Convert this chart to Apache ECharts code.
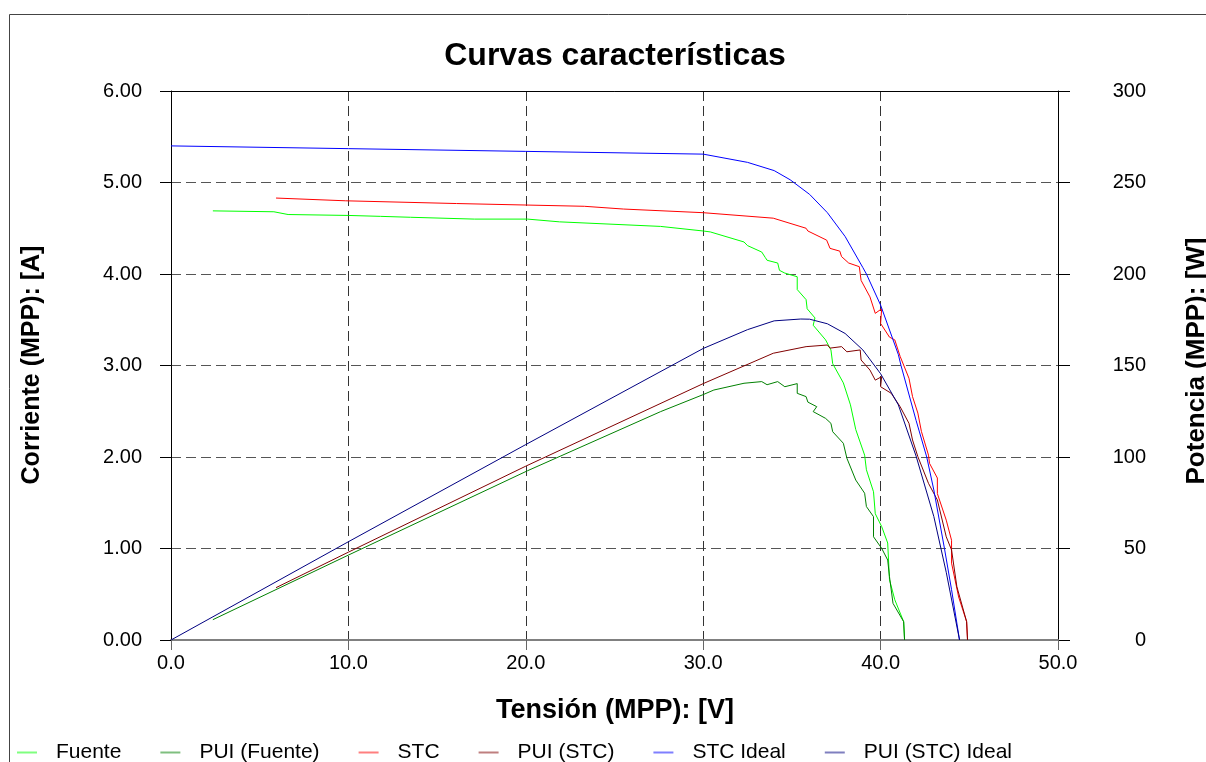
<!DOCTYPE html>
<html>
<head>
<meta charset="utf-8">
<script src="https://cdn.jsdelivr.net/npm/echarts@6/dist/echarts.min.js"></script>
<style>
html,body{margin:0;padding:0;background:#fff;}
#chart{width:1206px;height:762px;}
</style>
</head>
<body>
<div id="chart"></div>
<script>
// ---- Data (x = tension [V], y = current [A] or power [W]) ----
const xTicks = [0, 10, 20, 30, 40, 50];
const seriesNames = ['Fuente', 'PUI (Fuente)', 'STC', 'PUI (STC)', 'STC Ideal', 'PUI (STC) Ideal'];
const seriesColors = ['#00ff00', '#008000', '#ff0000', '#800000', '#0000ff', '#000080'];

const fuente = [[2.36,4.69],[5.8,4.68],[6.6,4.65],[10.0,4.64],[11.8,4.63],[13.5,4.62],[17.1,4.60],[20.1,4.60],[21.9,4.57],[27.6,4.52],[30.0,4.47],[30.4,4.46],[32.3,4.35],[32.5,4.31],[33.3,4.24],[33.5,4.18],[33.6,4.15],[34.2,4.12],[34.3,4.04],[34.6,4.01],[35.3,3.97],[35.3,3.83],[35.8,3.72],[35.86,3.62],[36.3,3.52],[36.2,3.44],[36.9,3.28],[37.2,3.17],[37.3,3.02],[37.9,2.81],[38.3,2.57],[38.6,2.30],[39.1,2.02],[39.2,1.86],[39.6,1.62],[39.7,1.38],[40.06,1.24],[40.4,1.06],[40.5,0.66],[40.8,0.44],[41.3,0.20],[41.35,0.0]];

const puiFuente = [[2.36,11.1],[10.0,46.4],[20.1,92.5],[27.6,124.8],[30.0,134.1],[30.6,136.6],[32.3,140.3],[33.3,141.2],[33.6,139.5],[34.2,141.2],[34.6,138.4],[35.3,140.1],[35.3,134.8],[35.8,133.0],[35.9,130.0],[36.4,127.5],[36.2,124.8],[36.9,121.1],[37.2,118.4],[37.3,113.8],[37.9,107.5],[38.1,99.3],[38.6,87.4],[39.1,80.2],[39.2,72.9],[39.6,67.4],[39.6,56.4],[40.06,50.1],[40.4,43.7],[40.5,34.6],[40.7,20.0],[41.3,10.0],[41.35,0.0]];

const stc = [[5.92,4.83],[9.85,4.80],[16.1,4.77],[23.3,4.74],[25.5,4.71],[30.0,4.67],[33.95,4.61],[35.8,4.50],[35.9,4.47],[36.96,4.37],[37.15,4.28],[37.7,4.25],[37.8,4.19],[38.2,4.12],[38.8,4.08],[38.9,3.93],[39.4,3.75],[39.7,3.57],[40.06,3.62],[40.0,3.46],[40.5,3.31],[40.8,3.28],[41.1,3.10],[41.6,2.86],[41.8,2.66],[42.1,2.48],[42.3,2.28],[42.7,2.02],[42.76,1.93],[43.2,1.77],[43.2,1.60],[43.7,1.31],[44.0,1.09],[44.0,0.84],[44.4,0.47],[44.85,0.20],[44.9,0.0]];

const puiStc = [[5.92,28.6],[10.0,48.0],[20.0,95.0],[30.0,140.1],[33.95,156.7],[35.8,160.3],[37.0,161.2],[37.15,159.5],[37.8,160.3],[38.1,157.5],[38.85,158.5],[38.9,153.0],[39.4,147.5],[39.7,142.0],[40.06,143.9],[40.0,138.4],[40.6,134.8],[41.1,127.5],[41.6,118.4],[41.8,109.3],[42.1,100.2],[42.7,85.6],[43.2,76.5],[43.7,56.4],[44.0,49.2],[44.3,29.1],[44.85,10.0],[44.9,0.0]];

const stcIdeal = [[0.0,5.40],[10.0,5.37],[20.0,5.34],[30.0,5.31],[32.5,5.22],[34.0,5.13],[34.9,5.03],[36.0,4.87],[37.0,4.67],[38.0,4.41],[39.0,4.07],[39.2,4.00],[40.0,3.66],[41.0,3.12],[41.15,3.00],[42.0,2.40],[42.6,2.00],[43.0,1.64],[43.6,1.00],[44.0,0.55],[44.45,0.0]];

const puiStcIdeal = [[0.0,0.0],[10.0,53.7],[20.0,106.8],[30.0,159.3],[32.5,169.6],[34.0,174.4],[35.5,175.4],[36.0,175.3],[37.0,172.8],[38.0,167.5],[39.0,158.5],[40.0,145.5],[41.0,128.5],[42.0,100.5],[43.0,67.5],[43.7,37.0],[44.45,0.0]];

const seriesData = [fuente, puiFuente, stc, puiStc, stcIdeal, puiStcIdeal];
const seriesAxis = [0, 1, 0, 1, 0, 1];

const FONT = 'Liberation Sans, Arial, sans-serif';
const chart = echarts.init(document.getElementById('chart'));

const option = {
  animation: false,
  backgroundColor: '#ffffff',
  title: {
    text: 'Curvas características',
    left: 610,
    textAlign: 'center',
    top: 35,
    textStyle: { fontFamily: FONT, fontSize: 32, fontWeight: 'bold', color: '#000' }
  },
  legend: {
    data: seriesNames,
    left: 12,
    top: 737,
    icon: 'rect',
    itemWidth: 20,
    itemHeight: 2,
    itemGap: 39,
    itemStyle: { opacity: 0.5 },
    textStyle: { fontFamily: FONT, fontSize: 21, color: '#000', padding: [0, 0, 0, 14] }
  },
  grid: { left: 171, right: 148, top: 91, bottom: 122, containLabel: false },
  xAxis: [
    {
      type: 'value', min: xTicks[0], max: xTicks[xTicks.length - 1], interval: 10,
      position: 'bottom',
      axisLine: { show: true, onZero: false, lineStyle: { color: '#808080', width: 2 } },
      axisTick: { show: true, inside: false, length: 10, lineStyle: { color: '#666' } },
      axisLabel: { formatter: v => v.toFixed(1), fontFamily: FONT, fontSize: 20, color: '#000', margin: 13 },
      splitLine: { show: true, lineStyle: { type: [10, 5], color: '#333', width: 1 } }
    },
    {
      type: 'value', min: xTicks[0], max: xTicks[xTicks.length - 1], interval: 10,
      position: 'top',
      axisLine: { show: true, onZero: false, lineStyle: { color: '#000', width: 1 } },
      axisTick: { show: false },
      axisLabel: { show: false },
      splitLine: { show: false }
    }
  ],
  yAxis: [
    {
      type: 'value', min: 0, max: 6, interval: 1, position: 'left',
      axisLine: { show: true, onZero: false, lineStyle: { color: '#000', width: 1 } },
      axisTick: { show: true, inside: false, length: 11, lineStyle: { color: '#000' } },
      axisLabel: { formatter: v => v.toFixed(2), fontFamily: FONT, fontSize: 20, color: '#000', margin: 29 },
      splitLine: { show: true, lineStyle: { type: [10, 5], color: '#555', width: 1 } }
    },
    {
      type: 'value', min: 0, max: 300, interval: 50, position: 'right',
      axisLine: { show: true, onZero: false, lineStyle: { color: '#000', width: 1 } },
      axisTick: { show: true, inside: false, length: 12, lineStyle: { color: '#000' } },
      axisLabel: { fontFamily: FONT, fontSize: 20, color: '#000', margin: 88, align: 'right' },
      splitLine: { show: false }
    }
  ],
  graphic: [
    { type: 'rect', silent: true, z: -10, shape: { x: 9.5, y: 14.5, width: 1300, height: 800 },
      style: { fill: 'none', stroke: '#444', lineWidth: 1 } },
    { type: 'text', x: 32, y: 365, rotation: Math.PI / 2,
      style: { text: 'Corriente (MPP): [A]', font: 'bold 25px ' + FONT, fill: '#000', align: 'center', verticalAlign: 'middle' } },
    { type: 'text', x: 1197, y: 361, rotation: Math.PI / 2,
      style: { text: 'Potencia (MPP): [W]', font: 'bold 26px ' + FONT, fill: '#000', align: 'center', verticalAlign: 'middle' } },
    { type: 'text', x: 615, y: 711,
      style: { text: 'Tensión (MPP): [V]', font: 'bold 27px ' + FONT, fill: '#000', align: 'center', verticalAlign: 'middle' } }
  ],
  series: seriesNames.map((name, i) => ({
    name: name,
    type: 'line',
    xAxisIndex: 0,
    yAxisIndex: seriesAxis[i],
    data: seriesData[i],
    showSymbol: false,
    symbol: 'none',
    smooth: false,
    lineStyle: { color: seriesColors[i], width: 1 },
    itemStyle: { color: seriesColors[i] },
    z: 3
  }))
};
chart.setOption(option);
</script>
</body>
</html>
